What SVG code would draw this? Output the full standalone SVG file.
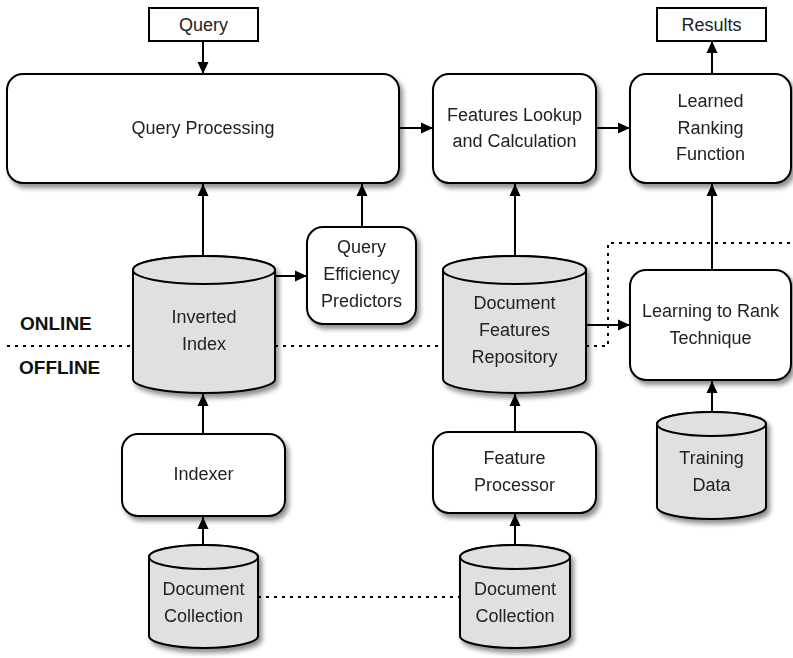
<svg xmlns="http://www.w3.org/2000/svg" width="793" height="658" viewBox="0 0 793 658">
<defs>
<filter id="sh" x="-20%" y="-20%" width="150%" height="150%">
<feGaussianBlur in="SourceAlpha" stdDeviation="2.5"/>
<feOffset dx="3" dy="4" result="b"/>
<feComponentTransfer><feFuncA type="linear" slope="0.45"/></feComponentTransfer>
<feMerge><feMergeNode/><feMergeNode in="SourceGraphic"/></feMerge>
</filter>
<marker id="ar" viewBox="0 0 12 12" refX="12" refY="6" markerWidth="12" markerHeight="12" markerUnits="userSpaceOnUse" orient="auto">
<path d="M0,0.5 L12,6 L0,11.5 z" fill="#000"/>
</marker>
</defs>
<style>
.box{fill:#fff;stroke:#000;stroke-width:2}
.cyl{fill:#e0e0e0;stroke:#000;stroke-width:2}
.t{font-family:"Liberation Sans",Arial,sans-serif;font-size:18px;fill:#222;text-anchor:middle}
.b{font-family:"Liberation Sans",Arial,sans-serif;font-size:19px;font-weight:bold;fill:#111}
.c{stroke:#000;stroke-width:2;fill:none}
.d{stroke:#000;stroke-width:2;fill:none;stroke-dasharray:3,5}
</style>
<g id="connectors">
<line class="d" x1="7" y1="346" x2="133" y2="346"/>
<line class="d" x1="275" y1="346" x2="443" y2="346"/>
<polyline class="d" points="586,346 608,346 608,243 793,243"/>
<line class="d" x1="258" y1="597" x2="460" y2="597"/>
<line class="c" x1="203" y1="41" x2="203" y2="74" marker-end="url(#ar)"/>
<line class="c" x1="712" y1="74" x2="712" y2="41" marker-end="url(#ar)"/>
<line class="c" x1="399" y1="128" x2="433" y2="128" marker-end="url(#ar)"/>
<line class="c" x1="596" y1="128" x2="630" y2="128" marker-end="url(#ar)"/>
<line class="c" x1="203" y1="256" x2="203" y2="184" marker-end="url(#ar)"/>
<line class="c" x1="362" y1="227" x2="362" y2="184" marker-end="url(#ar)"/>
<line class="c" x1="276" y1="276" x2="307" y2="276" marker-end="url(#ar)"/>
<line class="c" x1="515" y1="256" x2="515" y2="184" marker-end="url(#ar)"/>
<line class="c" x1="712" y1="270" x2="712" y2="184" marker-end="url(#ar)"/>
<line class="c" x1="587" y1="325" x2="630" y2="325" marker-end="url(#ar)"/>
<line class="c" x1="712" y1="412" x2="712" y2="381" marker-end="url(#ar)"/>
<line class="c" x1="203" y1="434" x2="203" y2="394" marker-end="url(#ar)"/>
<line class="c" x1="203" y1="545" x2="203" y2="517" marker-end="url(#ar)"/>
<line class="c" x1="515" y1="432" x2="515" y2="394" marker-end="url(#ar)"/>
<line class="c" x1="515" y1="545" x2="515" y2="514" marker-end="url(#ar)"/>
</g>
<g id="query">
<rect class="box" x="149" y="8" width="109" height="33"/>
<text class="t" x="203.5" y="31">Query</text>
</g>
<g id="results">
<rect class="box" x="657" y="8" width="109" height="33"/>
<text class="t" x="711.5" y="31">Results</text>
</g>
<g id="query-processing" filter="url(#sh)">
<rect class="box" x="7" y="74" width="392" height="109" rx="16"/>
<text class="t" x="203" y="134">Query Processing</text>
</g>
<g id="features-lookup" filter="url(#sh)">
<rect class="box" x="433" y="74" width="163" height="109" rx="16"/>
<text class="t" x="514.5" y="121">Features Lookup</text>
<text class="t" x="514.5" y="147">and Calculation</text>
</g>
<g id="learned-ranking" filter="url(#sh)">
<rect class="box" x="630" y="74" width="161" height="109" rx="16"/>
<text class="t" x="710.5" y="107">Learned</text>
<text class="t" x="710.5" y="134">Ranking</text>
<text class="t" x="710.5" y="160">Function</text>
</g>
<g id="inverted-index" filter="url(#sh)">
<path class="cyl" d="M133,270 V379 A71,14 0 0 0 275,379 V270 A71,14 0 0 0 133,270 Z"/>
<ellipse class="cyl" cx="204" cy="270" rx="71" ry="14"/>
<text class="t" x="204" y="323">Inverted</text>
<text class="t" x="204" y="350">Index</text>
</g>
<g id="query-efficiency" filter="url(#sh)">
<rect class="box" x="307" y="227" width="109" height="97" rx="16"/>
<text class="t" x="361.5" y="253">Query</text>
<text class="t" x="361.5" y="280">Efficiency</text>
<text class="t" x="361.5" y="307">Predictors</text>
</g>
<g id="document-features" filter="url(#sh)">
<path class="cyl" d="M443,270 V379 A71.5,14 0 0 0 586,379 V270 A71.5,14 0 0 0 443,270 Z"/>
<ellipse class="cyl" cx="514.5" cy="270" rx="71.5" ry="14"/>
<text class="t" x="514.5" y="309">Document</text>
<text class="t" x="514.5" y="336">Features</text>
<text class="t" x="514.5" y="363">Repository</text>
</g>
<g id="learning-to-rank" filter="url(#sh)">
<rect class="box" x="630" y="270" width="161" height="110" rx="16"/>
<text class="t" x="710.5" y="317">Learning to Rank</text>
<text class="t" x="710.5" y="344">Technique</text>
</g>
<g id="training-data" filter="url(#sh)">
<path class="cyl" d="M657,424 V507 A54.5,12 0 0 0 766,507 V424 A54.5,12 0 0 0 657,424 Z"/>
<ellipse class="cyl" cx="711.5" cy="424" rx="54.5" ry="12"/>
<text class="t" x="711.5" y="464">Training</text>
<text class="t" x="711.5" y="491">Data</text>
</g>
<g id="indexer" filter="url(#sh)">
<rect class="box" x="122" y="434" width="163" height="82" rx="16"/>
<text class="t" x="203.5" y="480">Indexer</text>
</g>
<g id="feature-processor" filter="url(#sh)">
<rect class="box" x="433" y="432" width="163" height="81" rx="16"/>
<text class="t" x="514.5" y="464">Feature</text>
<text class="t" x="514.5" y="491">Processor</text>
</g>
<g id="doc-collection-1" filter="url(#sh)">
<path class="cyl" d="M149,557 V636 A54.5,12 0 0 0 258,636 V557 A54.5,12 0 0 0 149,557 Z"/>
<ellipse class="cyl" cx="203.5" cy="557" rx="54.5" ry="12"/>
<text class="t" x="203.5" y="595">Document</text>
<text class="t" x="203.5" y="622">Collection</text>
</g>
<g id="doc-collection-2" filter="url(#sh)">
<path class="cyl" d="M460,557 V636 A55,12 0 0 0 570,636 V557 A55,12 0 0 0 460,557 Z"/>
<ellipse class="cyl" cx="515" cy="557" rx="55" ry="12"/>
<text class="t" x="515" y="595">Document</text>
<text class="t" x="515" y="622">Collection</text>
</g>
<g id="labels">
<text class="b" x="20" y="330">ONLINE</text>
<text class="b" x="19" y="374">OFFLINE</text>
</g>
</svg>
